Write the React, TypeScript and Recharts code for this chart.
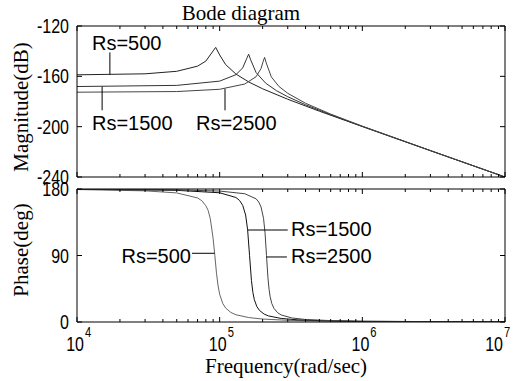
import React from 'react';
import { LineChart, Line, XAxis, YAxis, ReferenceLine } from 'recharts';

// axis ticks
const FREQ_TICKS = [
  1e4, 2e4, 3e4, 4e4, 5e4, 6e4, 7e4, 8e4, 9e4,
  1e5, 2e5, 3e5, 4e5, 5e5, 6e5, 7e5, 8e5, 9e5,
  1e6, 2e6, 3e6, 4e6, 5e6, 6e6, 7e6, 8e6, 9e6, 1e7,
];
const MAG_TICKS = [-240, -200, -160, -120];
const PHASE_TICKS = [0, 90, 180];

// magnitude (dB)
const MAG_500_F = [1e4, 3e4, 5e4, 7e4, 8e4, 9e4, 9.38e4, 1e5, 1.1e5, 1.3e5, 1.6e5, 2e5, 3e5, 5e5, 1e6, 3e6, 1e7];
const MAG_500_DB = [-158.8, -158.0, -156.0, -151.9, -147.9, -139.8, -137.0, -143.0, -150.6, -158.2, -164.5, -169.9, -178.2, -187.7, -199.9, -219.1, -240.0];

const MAG_1500_F = [1e4, 5e4, 1e5, 1.3e5, 1.45e5, 1.55e5, 1.596e5, 1.65e5, 1.8e5, 2.1e5, 2.5e5, 3e5, 4e5, 6e5, 1e6, 3e6, 1e7];
const MAG_1500_DB = [-168.1, -167.2, -163.8, -158.7, -153.3, -145.7, -142.4, -146.9, -157.0, -165.4, -171.4, -176.2, -182.6, -190.5, -199.8, -219.0, -240.0];

const MAG_2500_F = [1e4, 5e4, 1e5, 1.5e5, 1.8e5, 1.95e5, 2.02e5, 2.065e5, 2.12e5, 2.3e5, 2.6e5, 3e5, 4e5, 6e5, 1e6, 3e6, 1e7];
const MAG_2500_DB = [-172.6, -172.1, -170.3, -166.1, -160.3, -153.8, -148.0, -144.9, -149.3, -160.4, -168.0, -173.5, -181.4, -190.0, -199.6, -219.0, -240.0];

// phase (deg)
const PH_500_F = [1e4, 3e4, 5e4, 7e4, 7.5e4, 8e4, 8.3e4, 8.6e4, 9e4, 9.25e4, 9.5e4, 9.75e4, 1e5, 1.05e5, 1.1e5, 1.2e5, 1.3e5, 1.6e5, 2e5, 3e5, 5e5, 1e6, 1e7];
const PH_500_DEG = [179.3, 177.5, 174.7, 167.9, 164.1, 157.3, 151.1, 139.7, 112.9, 90, 66.0, 48.7, 37.5, 25.3, 19.0, 12.8, 9.8, 6.0, 4.0, 2.3, 1.3, 0.6, 0.1];

const PH_1500_F = [1e4, 5e4, 1e5, 1.3e5, 1.38e5, 1.45e5, 1.52e5, 1.57e5, 1.62e5, 1.67e5, 1.71e5, 1.75e5, 1.82e5, 1.9e5, 2.05e5, 2.2e5, 2.7e5, 3.5e5, 5e5, 1e6, 1e7];
const PH_1500_DEG = [179.7, 178.2, 174.9, 168.5, 164.4, 157.9, 144.8, 124.9, 90, 56.0, 39.7, 30.2, 21.1, 15.7, 10.7, 8.2, 4.8, 3.0, 1.9, 0.9, 0.1];

const PH_2500_F = [1e4, 5e4, 1e5, 1.5e5, 1.8e5, 1.88e5, 1.95e5, 2.03e5, 2.08e5, 2.13e5, 2.18e5, 2.22e5, 2.26e5, 2.32e5, 2.4e5, 2.55e5, 2.7e5, 3.2e5, 4e5, 6e5, 1e6, 1e7];
const PH_2500_DEG = [179.8, 178.9, 177.2, 173.6, 166.7, 162.3, 155.7, 140.3, 120.7, 90, 59.8, 44.0, 34.0, 25.0, 18.5, 12.5, 9.5, 5.5, 3.4, 1.9, 1.0, 0.1];

const pts = (f: number[], v: number[]) => f.map((x, i) => ({ f: x, v: v[i] }));

const SANS = '"Liberation Sans", Arial, sans-serif';
const SERIF = '"Liberation Serif", "Times New Roman", serif';

const isMajor = (v: number) => {
  const e = Math.log10(v);
  return Math.abs(e - Math.round(e)) < 1e-6;
};

const BottomTick = (props: any) => {
  const { x, y, payload, labels } = props;
  const major = isMajor(payload.value);
  const exp = Math.round(Math.log10(payload.value));
  // last label is pulled in so it stays inside the figure
  const dx = exp === 7 ? -9 : 0;
  return (
    <g>
      <line x1={x} x2={x} y1={y} y2={y - (major ? 5 : 3)} stroke="#000" />
      {labels && major && (
        <g>
          <text transform={`translate(${x + 7 + dx},${y + 29}) scale(0.8,1)`} textAnchor="end" fontSize={20} fontFamily={SANS} fill="#000">10</text>
          <text transform={`translate(${x + 8 + dx},${y + 15}) scale(0.8,1)`} textAnchor="start" fontSize={14} fontFamily={SANS} fill="#000">{exp}</text>
        </g>
      )}
    </g>
  );
};

const TopTick = (props: any) => {
  const { x, y, payload } = props;
  const major = isMajor(payload.value);
  return <line x1={x} x2={x} y1={y} y2={y + (major ? 5 : 3)} stroke="#000" />;
};

const LeftTick = (props: any) => {
  const { x, y, payload } = props;
  return (
    <g>
      <line x1={x} x2={x + 5} y1={y} y2={y} stroke="#000" />
      <text transform={`translate(${x - 8},${y + 7}) scale(0.8,1)`} textAnchor="end" fontSize={20} fontFamily={SANS} fill="#000">{payload.value}</text>
    </g>
  );
};

const RightTick = (props: any) => {
  const { x, y } = props;
  return <line x1={x} x2={x - 5} y1={y} y2={y} stroke="#000" />;
};

const axisBits = {
  tickSize: 0,
  tickMargin: 0,
  tickLine: false,
  interval: 0 as const,
  axisLine: { stroke: '#000' },
  allowDataOverflow: true,
};

const xAxes = (labels: boolean) => [
  <XAxis key="b" xAxisId="b" dataKey="f" type="number" scale="log" domain={[1e4, 1e7]} ticks={FREQ_TICKS} height={1} {...axisBits} tick={(p: any) => <BottomTick {...p} labels={labels} />} />,
  <XAxis key="t" xAxisId="t" orientation="top" dataKey="f" type="number" scale="log" domain={[1e4, 1e7]} ticks={FREQ_TICKS} height={1} {...axisBits} tick={(p: any) => <TopTick {...p} />} />,
];

const yAxes = (domain: number[], ticks: number[]) => [
  <YAxis key="l" yAxisId="l" type="number" domain={domain} ticks={ticks} width={1} {...axisBits} tick={(p: any) => <LeftTick {...p} />} />,
  <YAxis key="r" yAxisId="r" orientation="right" type="number" domain={domain} ticks={ticks} width={1} {...axisBits} tick={(p: any) => <RightTick {...p} />} />,
];

const series = (data: any[], stroke: string, key: string) => (
  <Line key={key} data={data} dataKey="v" xAxisId="b" yAxisId="l" type="linear" stroke={stroke} strokeWidth={1} dot={false} activeDot={false} isAnimationActive={false} />
);

const lead = (x1: number, y1: number, x2: number, y2: number, key: string) => (
  <ReferenceLine key={key} xAxisId="b" yAxisId="l" segment={[{ x: x1, y: y1 }, { x: x2, y: y2 }]} stroke="#000" strokeWidth={1} ifOverflow="visible" />
);

export default function App() {
  return (
    <div style={{ position: 'absolute', left: 0, top: 0, width: 516, height: 381, background: '#fff' }}>
      <div style={{ position: 'absolute', left: 0, top: 0 }}>
        <LineChart width={516} height={195} margin={{ top: 25, right: 10, bottom: 17, left: 76 }}>
          {xAxes(false)}
          {yAxes([-240, -120], MAG_TICKS)}
          {series(pts(MAG_500_F, MAG_500_DB), '#222', 'm500')}
          {series(pts(MAG_1500_F, MAG_1500_DB), '#333', 'm1500')}
          {series(pts(MAG_2500_F, MAG_2500_DB), '#444', 'm2500')}
          {lead(17000, -141, 17000, -158.6, 'a1')}
          {lead(15000, -168.1, 15000, -187, 'a2')}
          {lead(109000, -169.9, 109000, -187, 'a3')}
        </LineChart>
      </div>
      <div style={{ position: 'absolute', left: 0, top: 180 }}>
        <LineChart width={516} height={201} margin={{ top: 8, right: 10, bottom: 58, left: 76 }}>
          {xAxes(true)}
          {yAxes([0, 180], PHASE_TICKS)}
          {series(pts(PH_500_F, PH_500_DEG), '#666', 'p500')}
          {series(pts(PH_1500_F, PH_1500_DEG), '#111', 'p1500')}
          {series(pts(PH_2500_F, PH_2500_DEG), '#444', 'p2500')}
          {lead(64000, 93, 92000, 93, 'b1')}
          {lead(157000, 124.5, 300000, 124.5, 'b2')}
          {lead(213000, 88, 296000, 88, 'b3')}
        </LineChart>
      </div>
      <svg width={516} height={381} style={{ position: 'absolute', left: 0, top: 0, pointerEvents: 'none' }}>
        <text x={241} y={20} textAnchor="middle" fontSize={21} fontFamily={SERIF}>Bode diagram</text>
        <text transform="translate(28,107) rotate(-90)" textAnchor="middle" fontSize={21} fontFamily={SERIF}>Magnitude(dB)</text>
        <text transform="translate(28,250) rotate(-90)" textAnchor="middle" fontSize={21} fontFamily={SERIF}>Phase(deg)</text>
        <text x={286} y={373} textAnchor="middle" fontSize={21} fontFamily={SERIF}>Frequency(rad/sec)</text>
        <g fontFamily={SANS} fontSize={20} fill="#000">
          <text x={92} y={50}>Rs=500</text>
          <text x={92} y={130}>Rs=1500</text>
          <text x={196} y={130}>Rs=2500</text>
          <text x={191} y={263} textAnchor="end">Rs=500</text>
          <text x={291} y={236}>Rs=1500</text>
          <text x={291} y={263}>Rs=2500</text>
        </g>
      </svg>
    </div>
  );
}
